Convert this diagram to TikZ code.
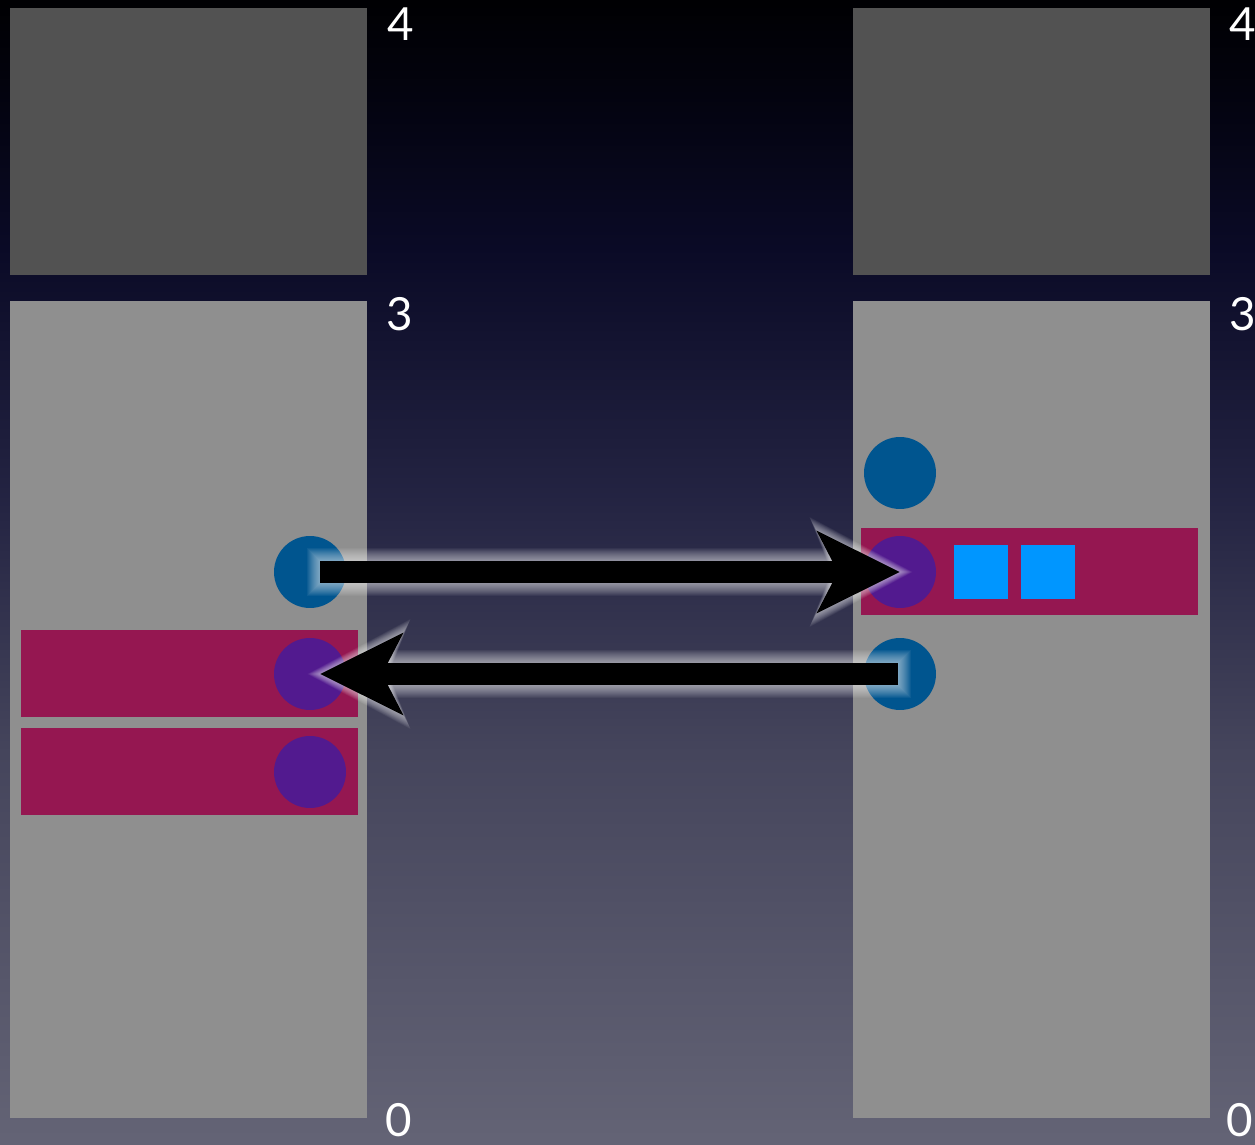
\documentclass[tikz,border=0pt]{standalone}
\usepackage{fontspec}
\setmainfont{Lato}
\usetikzlibrary{arrows.meta}

% Background: black at the top, grey violet at the bottom
\pgfdeclareverticalshading{nightsky}{100bp}{rgb(0bp)=(0.39,0.39,0.46); rgb(25bp)=(0.39,0.39,0.46); rgb(42.2bp)=(0.27,0.27,0.36); rgb(53.2bp)=(0.14,0.14,0.26); rgb(64.1bp)=(0.04,0.04,0.15); rgb(71.5bp)=(0.01,0.01,0.05); rgb(75bp)=(0,0,0.01); rgb(100bp)=(0,0,0.01)}

\begin{document}
\begin{tikzpicture}[x=0.02cm,y=-0.02cm]
  % Colors
  \definecolor{cachecolor}{HTML}{525252}
  \definecolor{memcolor}{HTML}{8F8F8F}
  \definecolor{linecolor}{HTML}{951751}
  \definecolor{freecolor}{HTML}{00558F}
  \definecolor{usedcolor}{HTML}{521A8F}
  \definecolor{datacolor}{HTML}{0096FF}

  % Styles
  \tikzstyle{slot}=[circle,minimum size=1.44cm,inner sep=0pt]
  \tikzstyle{free slot}=[slot,fill=freecolor]
  \tikzstyle{used slot}=[slot,fill=usedcolor]
  \tikzstyle{datum}=[fill=datacolor,minimum size=1.08cm,inner sep=0pt]
  \tikzstyle{level}=[text=white,font=\fontsize{26}{26}\selectfont,inner sep=0pt]
  \tikzstyle{transfer}=[line width=0.44cm,-{Stealth[length=1.64cm,width=1.6cm,inset=0.4cm]}]

  % The graphic
  \useasboundingbox (0,0) rectangle (1255,1145);
  \shade[shading=nightsky] (0,0) rectangle (1255,1145);

  % columns
  \fill[cachecolor] (10,8) rectangle (367,275);
  \fill[cachecolor] (853,8) rectangle (1210,275);
  \fill[memcolor] (10,301) rectangle (367,1118);
  \fill[memcolor] (853,301) rectangle (1210,1118);

  \node[level] (l4) at (401,24) {4};
  \node[level] (l3) at (400,314) {3};
  \node[level] (l0) at (399,1120) {0};
  \node[level] (r4) at (1243,24) {4};
  \node[level] (r3) at (1243,314) {3};
  \node[level] (r0) at (1240,1120) {0};

  % lines
  \fill[linecolor] (21,630) rectangle (358,717);
  \fill[linecolor] (21,728) rectangle (358,815);
  \fill[linecolor] (861,528) rectangle (1198,615);

  \node[free slot] (lb) at (310,572) {};
  \node[used slot] (lp1) at (310,674) {};
  \node[used slot] (lp2) at (310,772) {};
  \node[free slot] (rb1) at (900,473) {};
  \node[used slot] (rp) at (900,572) {};
  \node[free slot] (rb2) at (900,674) {};

  \node[datum] (d1) at (981,572) {};
  \node[datum] (d2) at (1048,572) {};

  % glow
  \foreach \g in {0.26,0.24,...,0.02}
  {
    \pgfmathsetmacro\L{1.64+1.5*\g}
    \pgfmathsetmacro\W{1.6+2*\g}
    \pgfmathsetmacro\T{0.44+2*\g}
    \pgfmathsetmacro\S{0.2-\g}
    \draw[white,opacity=0.05,line width=\T cm,
      -{Stealth[length=\L cm,width=\W cm,inset=0.4cm]},
      shorten <=\S cm,shorten >=-\g cm] (lb.center) -- (rp.center);
    \pgfmathsetmacro\S{0.04-\g}
    \pgfmathsetmacro\E{0.2-\g}
    \draw[white,opacity=0.05,line width=\T cm,
      -{Stealth[length=\L cm,width=\W cm,inset=0.4cm]},
      shorten <=\S cm,shorten >=\E cm] (rb2.center) -- (lp1.center);
  }

  % transfers
  \draw[transfer,shorten <=0.2cm] (lb.center) -- (rp.center);
  \draw[transfer,shorten <=0.04cm,shorten >=0.2cm] (rb2.center) -- (lp1.center);
\end{tikzpicture}
\end{document}
